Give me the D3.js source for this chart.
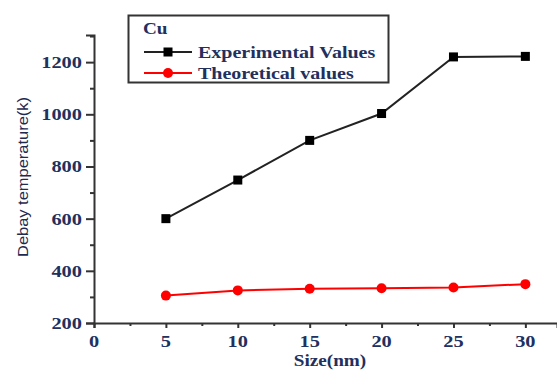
<!DOCTYPE html>
<html>
<head>
<meta charset="utf-8">
<script src="https://cdn.jsdelivr.net/npm/d3@7"></script>
<style>
  html, body { margin: 0; padding: 0; background: #fff; }
  svg { display: block; }
</style>
</head>
<body>
<svg id="chart" width="557" height="373"></svg>
<script>
// Particle size (nm) and Debye temperature (K) for Cu
const sizes = [5, 10, 15, 20, 25, 30];
const experimental = [600, 748, 900, 1003, 1220, 1222];
const theoretical = [305, 325, 331, 333, 336, 349];
const xTicks = [0, 5, 10, 15, 20, 25, 30];
const yTicks = [200, 400, 600, 800, 1000, 1200];
const seriesNames = ["Experimental Values", "Theoretical values"];
const legendTitle = "Cu";
const xTitle = "Size(nm)";
const yTitle = "Debay temperature(k)";

const svg = d3.select("#chart");
const textColor = "#22305e";
const axisColor = "#333";
const serif = "'Liberation Serif', 'Times New Roman', serif";

const x = d3.scaleLinear().domain([0, 32.2]).range([94, 557]);
const y = d3.scaleLinear().domain([200, 1304]).range([323, 35]);

// horizontally widened bold serif text
function label(g, str, px, py, anchor, size, stretch = 1.2) {
  return g.append("text")
    .attr("transform", `translate(${px},${py}) scale(${stretch},1)`)
    .attr("text-anchor", anchor)
    .attr("font-family", serif)
    .attr("font-weight", "bold")
    .attr("font-size", size)
    .attr("fill", textColor)
    .text(str);
}

// axes
const xAxis = svg.append("g").attr("transform", `translate(0,${y(200)})`)
  .call(d3.axisBottom(x).tickValues(xTicks).tickSize(5).tickFormat(""));
const xMinor = svg.append("g").attr("transform", `translate(0,${y(200)})`)
  .call(d3.axisBottom(x).tickValues(xTicks.slice(0, -1).map(v => v + 2.5)).tickSize(3).tickFormat(""));
const yAxis = svg.append("g").attr("transform", `translate(${x(0)},0)`)
  .call(d3.axisLeft(y).tickValues(yTicks).tickSize(8).tickFormat(""));
const yMinor = svg.append("g").attr("transform", `translate(${x(0)},0)`)
  .call(d3.axisLeft(y).tickValues(yTicks.map(v => v + 100)).tickSize(4).tickFormat(""));

[xAxis, xMinor, yAxis, yMinor].forEach(g => {
  g.selectAll("path").attr("stroke", axisColor).attr("stroke-width", 2);
  g.selectAll("line").attr("stroke", axisColor).attr("stroke-width", 2);
});
xMinor.select("path").remove();
yMinor.select("path").remove();

// tick labels
const labels = svg.append("g");
xTicks.forEach(v => label(labels, v, x(v), 347, "middle", 17));
yTicks.forEach(v => label(labels, v, 82, y(v) + 6, "end", 17));

// axis titles
label(svg, xTitle, 330, 366, "middle", 16);
svg.append("text")
  .attr("transform", `translate(28,177) rotate(-90)`)
  .attr("text-anchor", "middle")
  .attr("font-family", "'Liberation Sans', Arial, sans-serif")
  .attr("font-size", 15)
  .attr("textLength", 160)
  .attr("lengthAdjust", "spacingAndGlyphs")
  .attr("fill", "#1f2a50")
  .text(yTitle);

// series
const line = d3.line().x(d => x(d[0])).y(d => y(d[1]));
const expPts = sizes.map((s, i) => [s, experimental[i]]);
const thPts = sizes.map((s, i) => [s, theoretical[i]]);

svg.append("path").datum(thPts).attr("d", line)
  .attr("fill", "none").attr("stroke", "#ff0000").attr("stroke-width", 2);
svg.append("g").selectAll("circle").data(thPts).join("circle")
  .attr("cx", d => x(d[0])).attr("cy", d => y(d[1])).attr("r", 5)
  .attr("fill", "#ff0000");

svg.append("path").datum(expPts).attr("d", line)
  .attr("fill", "none").attr("stroke", "#222").attr("stroke-width", 2);
svg.append("g").selectAll("rect").data(expPts).join("rect")
  .attr("x", d => x(d[0]) - 4.5).attr("y", d => y(d[1]) - 4.5)
  .attr("width", 9).attr("height", 9).attr("fill", "#000");

// legend
const lg = svg.append("g");
lg.append("rect").attr("x", 128.5).attr("y", 15.5).attr("width", 260).attr("height", 67)
  .attr("fill", "#fff").attr("stroke", axisColor).attr("stroke-width", 2);
label(lg, legendTitle, 143, 34, "start", 16);
const rows = [
  { y: 52, color: "#222", marker: "rect" },
  { y: 73, color: "#ff0000", marker: "circle" }
];
rows.forEach((r, i) => {
  lg.append("line").attr("x1", 144).attr("x2", 192).attr("y1", r.y).attr("y2", r.y)
    .attr("stroke", r.color).attr("stroke-width", 2);
  if (r.marker === "rect") {
    lg.append("rect").attr("x", 168 - 4.5).attr("y", r.y - 4.5).attr("width", 9).attr("height", 9).attr("fill", "#000");
  } else {
    lg.append("circle").attr("cx", 168).attr("cy", r.y).attr("r", 5).attr("fill", "#ff0000");
  }
  label(lg, seriesNames[i], 198, r.y + 5.5, "start", 16, 1.25);
});
</script>
</body>
</html>
